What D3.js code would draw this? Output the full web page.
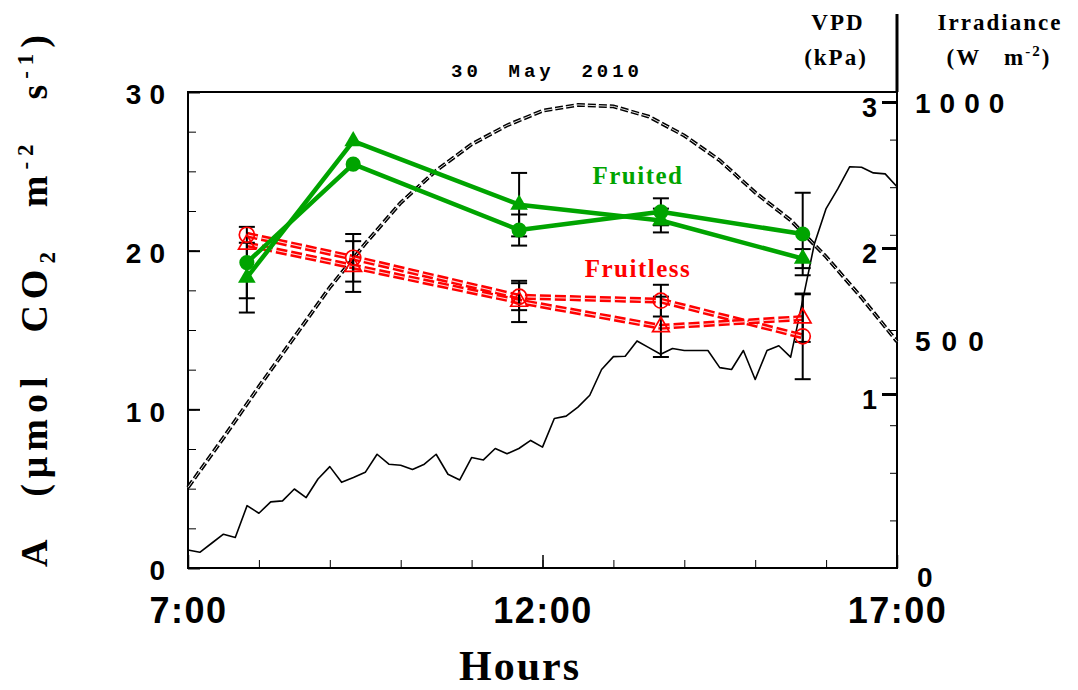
<!DOCTYPE html>
<html>
<head>
<meta charset="utf-8">
<script src="https://cdn.jsdelivr.net/npm/d3@7"></script>
<style>
  body { margin: 0; background: #fff; }
  text { fill: #000; white-space: pre; }
</style>
</head>
<body>
<div id="chart"></div>
<script>
// measurement times (hours) of the gas exchange campaign
const hours = [7.83, 9.33, 11.67, 13.67, 15.67]

// net assimilation A, two series per group, with their error bars
const fruitedCircle = [19.25, 25.45, 21.3, 22.45, 21.05]
const fruitedCircleErr = [2.25, 0, 0.98, 0.85, 2.6]
const fruitedTriangle = [18.3, 26.9, 22.9, 21.9, 19.5]
const fruitedTriangleErr = [2.2, 0, 2.0, 0.75, 0.6]
const fruitlessCircle = [21.0, 19.55, 17.1, 16.85, 14.6]
const fruitlessCircleErr = [0, 1.5, 0.85, 1.0, 2.7]
const fruitlessTriangle = [20.4, 19.0, 16.8, 15.2, 15.75]
const fruitlessTriangleErr = [0, 1.6, 1.3, 1.9, 1.5]

// VPD (kPa), every 30 min
const vpdTimes = ["7:00", "7:30", "8:00", "8:30", "9:00", "9:30", "10:00", "10:30", "11:00", "11:30",
    "12:00", "12:30", "13:00", "13:30", "14:00", "14:30", "15:00", "15:30", "16:00", "16:30", "17:00"]
const vpdValues = [0.36, 0.70, 1.05, 1.39, 1.73, 2.03, 2.31, 2.53, 2.71, 2.84,
    2.94, 2.98, 2.97, 2.90, 2.77, 2.60, 2.38, 2.19, 1.94, 1.66, 1.36]

// irradiance (W m-2), every 10 min
const irrTimes = ["7:00", "7:10", "7:20", "7:30", "7:40", "7:50", "8:00", "8:10", "8:20", "8:30", "8:40", "8:50",
    "9:00", "9:10", "9:20", "9:30", "9:40", "9:50", "10:00", "10:10", "10:20", "10:30", "10:40", "10:50",
    "11:00", "11:10", "11:20", "11:30", "11:40", "11:50", "12:00", "12:10", "12:20", "12:30", "12:40", "12:50",
    "13:00", "13:10", "13:20", "13:30", "13:40", "13:50", "14:00", "14:10", "14:20", "14:30", "14:40", "14:50",
    "15:00", "15:10", "15:20", "15:30", "15:40", "15:50", "16:00", "16:10", "16:20", "16:30", "16:40", "16:50", "17:00"]
const irrValues = [38, 33, 52, 71, 64, 131, 115, 139, 141, 166, 148, 187,
    213, 180, 190, 201, 239, 218, 216, 207, 218, 239, 197, 185,
    232, 227, 251, 240, 251, 268, 254, 314, 319, 338, 363, 417,
    444, 445, 477, 463, 449, 461, 457, 457, 457, 421, 417, 457,
    396, 457, 467, 443, 560, 680, 755, 797, 843, 842, 830, 828, 801]

// axis ticks
const xTickLabels = [7, 12, 17]
const aTickLabels = [0, 10, 20, 30]
const vpdTickLabels = [1, 2, 3]
const irrTickLabels = [0, 500, 1000]

const GREEN = "#00a400"
const RED = "#ff0000"
const SANS = "'Liberation Sans', Arial, sans-serif"
const SERIF = "'Liberation Serif', 'Times New Roman', serif"

const toHour = t => +t.split(":")[0] + t.split(":")[1] / 60

const svg = d3.select("#chart")
    .append("svg")
    .attr("width", 1078)
    .attr("height", 690)

const x = d3.scaleLinear().domain([7, 17]).range([188, 897])
const yA = d3.scaleLinear().domain([0, 30]).range([568, 92])
const yVpd = d3.scaleLinear().domain([0, 3]).range([540, 102])
const yIrr = d3.scaleLinear().domain([0, 1000]).range([568, 92])

// stretch the gaps between words so a text fills a given length
function fitWords(sel, target, gaps) {
    const len = sel.node().getComputedTextLength()
    sel.attr("word-spacing", Math.max(0, (target - len) / gaps))
}

// frame
svg.append("rect")
    .attr("x", x(7)).attr("y", yA(30))
    .attr("width", x(17) - x(7)).attr("height", yA(0) - yA(30))
    .attr("fill", "none").attr("stroke", "#000").attr("stroke-width", 2)

// header divider on the right
svg.append("line")
    .attr("x1", x(17)).attr("x2", x(17)).attr("y1", 14).attr("y2", yA(30))
    .attr("stroke", "#000").attr("stroke-width", 3)

// left axis: ticks point inward
const leftMinor = svg.append("g").attr("transform", `translate(${x(7)},0)`)
    .call(d3.axisRight(yA).tickValues(d3.range(0, 30.1, 2.5)).tickSize(8).tickFormat(""))
leftMinor.select(".domain").remove()
const leftMajor = svg.append("g").attr("transform", `translate(${x(7)},0)`)
    .call(d3.axisLeft(yA).tickValues(aTickLabels).tickSizeInner(-12).tickSizeOuter(0).tickPadding(15))
leftMajor.select(".domain").remove()
leftMajor.selectAll("line").attr("stroke-width", 2)
leftMajor.selectAll("text")
    .attr("font-family", SANS).attr("font-weight", "bold").attr("font-size", 28)
    .attr("letter-spacing", 8).attr("dy", "0.42em")

// bottom axis
const bottomMinor = svg.append("g").attr("transform", `translate(0,${yA(0)})`)
    .call(d3.axisTop(x).tickValues(d3.range(7, 17.1, 1)).tickSize(8).tickFormat(""))
bottomMinor.select(".domain").remove()
const bottomMajor = svg.append("g").attr("transform", `translate(0,${yA(0)})`)
    .call(d3.axisBottom(x).tickValues(xTickLabels).tickSizeInner(-13).tickSizeOuter(0).tickPadding(55)
        .tickFormat(d => d + ":00"))
bottomMajor.select(".domain").remove()
bottomMajor.selectAll("line").attr("stroke-width", 1.5)
bottomMajor.selectAll("text")
    .attr("font-family", SANS).attr("font-weight", "bold").attr("font-size", 36)
    .attr("letter-spacing", 1.5).attr("dy", 0)

// right axis: irradiance minor ticks, VPD major ticks, both inward
const rightIrr = svg.append("g").attr("transform", `translate(${x(17)},0)`)
    .call(d3.axisLeft(yIrr).tickValues(d3.range(100, 1000, 100)).tickSize(7).tickFormat(""))
rightIrr.select(".domain").remove()
const rightVpd = svg.append("g").attr("transform", `translate(${x(17)},0)`)
    .call(d3.axisLeft(yVpd).tickValues(vpdTickLabels).tickSize(15).tickPadding(5)
        .tickFormat(d3.format("d")))
rightVpd.select(".domain").remove()
rightVpd.selectAll("line").attr("stroke-width", 3)
rightVpd.selectAll("text")
    .attr("font-family", SANS).attr("font-weight", "bold").attr("font-size", 27)
    .attr("dy", "0.55em")

svg.append("g").selectAll("text")
    .data(irrTickLabels)
    .join("text")
    .attr("x", d => d === 0 ? x(17) + 20 : x(17) + 18)
    .attr("y", d => d === 0 ? yIrr(d) + 19 : yIrr(d) + 21)
    .attr("font-family", SANS).attr("font-weight", "bold").attr("font-size", 28)
    .attr("letter-spacing", d => d === 500 ? 11 : 9)
    .text(d => d)

// VPD: double-line dashed curve
const vpdData = vpdTimes.map((t, i) => ({ h: toHour(t), v: vpdValues[i] }))
const vpdLine = d3.line().x(d => x(d.h)).y(d => yVpd(d.v))
svg.append("path").datum(vpdData)
    .attr("fill", "none").attr("stroke", "#000").attr("stroke-width", 3.8)
    .attr("stroke-dasharray", "8,3").attr("d", vpdLine)
svg.append("path").datum(vpdData)
    .attr("fill", "none").attr("stroke", "#fff").attr("stroke-width", 0.9)
    .attr("stroke-dasharray", "8,3").attr("d", vpdLine)

// irradiance: thin solid line
const irrData = irrTimes.map((t, i) => ({ h: toHour(t), v: irrValues[i] }))
svg.append("path").datum(irrData)
    .attr("fill", "none").attr("stroke", "#000").attr("stroke-width", 1.6)
    .attr("stroke-linejoin", "round")
    .attr("d", d3.line().x(d => x(d.h)).y(d => yIrr(d.v)))

const series = [
    { values: fruitlessCircle, err: fruitlessCircleErr, color: RED, shape: "circle", open: true },
    { values: fruitlessTriangle, err: fruitlessTriangleErr, color: RED, shape: "triangle", open: true },
    { values: fruitedCircle, err: fruitedCircleErr, color: GREEN, shape: "circle", open: false },
    { values: fruitedTriangle, err: fruitedTriangleErr, color: GREEN, shape: "triangle", open: false }
]
const aLine = d3.line().x((d, i) => x(hours[i])).y(d => yA(d))

// series lines
series.forEach(s => {
    if (s.open) {
        svg.append("path").datum(s.values)
            .attr("fill", "none").attr("stroke", s.color).attr("stroke-width", 6)
            .attr("stroke-dasharray", "11,4").attr("d", aLine)
        svg.append("path").datum(s.values)
            .attr("fill", "none").attr("stroke", "#ffd6d6").attr("stroke-width", 1.1)
            .attr("stroke-dasharray", "11,4").attr("d", aLine)
    } else {
        svg.append("path").datum(s.values)
            .attr("fill", "none").attr("stroke", s.color).attr("stroke-width", 4.5)
            .attr("stroke-linejoin", "round").attr("d", aLine)
    }
})

// error bars
series.forEach(s => {
    const g = svg.append("g").attr("stroke", "#000").attr("stroke-width", 2)
    s.values.forEach((v, i) => {
        const e = s.err[i]
        if (!e) return
        const cx = x(hours[i])
        g.append("line").attr("x1", cx).attr("x2", cx).attr("y1", yA(v - e)).attr("y2", yA(v + e))
        g.append("line").attr("x1", cx - 8).attr("x2", cx + 8).attr("y1", yA(v - e)).attr("y2", yA(v - e))
        g.append("line").attr("x1", cx - 8).attr("x2", cx + 8).attr("y1", yA(v + e)).attr("y2", yA(v + e))
    })
})

// markers
series.forEach(s => {
    const sym = d3.symbol()
        .type(s.shape === "circle" ? d3.symbolCircle : d3.symbolTriangle)
        .size(s.open ? (s.shape === "circle" ? 180 : 120) : (s.shape === "circle" ? 180 : 135))
    svg.append("g").selectAll("path")
        .data(s.values)
        .join("path")
        .attr("transform", (d, i) => `translate(${x(hours[i])},${yA(d)})`)
        .attr("d", sym)
        .attr("fill", s.open ? "none" : s.color)
        .attr("stroke", s.color)
        .attr("stroke-width", s.open ? 1.7 : 0)
})

// group labels
svg.append("text").attr("x", 638).attr("y", 184)
    .attr("text-anchor", "middle").attr("font-family", SERIF).attr("font-weight", "bold")
    .attr("font-size", 25).attr("letter-spacing", 1.5).style("fill", GREEN).text("Fruited")
svg.append("text").attr("x", 638).attr("y", 277)
    .attr("text-anchor", "middle").attr("font-family", SERIF).attr("font-weight", "bold")
    .attr("font-size", 25).attr("letter-spacing", 1.5).style("fill", RED).text("Fruitless")

// title
const title = svg.append("text").attr("x", 451).attr("y", 77)
    .attr("font-family", "'Liberation Mono', 'Courier New', monospace").attr("font-weight", "bold")
    .attr("font-size", 19).attr("letter-spacing", 4)
    .text("30 May 2010")
fitWords(title, 192, 2)

// right headers
const header = (cx, y) => svg.append("text").attr("x", cx).attr("y", y)
    .attr("text-anchor", "middle").attr("font-family", SERIF).attr("font-weight", "bold")
    .attr("font-size", 23).attr("letter-spacing", 2)
header(838, 30).text("VPD")
header(836, 65).text("(kPa)")
header(1000, 30).text("Irradiance")
const wm = header(999, 65)
wm.append("tspan").text("(W   m")
wm.append("tspan").attr("font-size", 15).attr("dy", -9).text("-2")
wm.append("tspan").attr("dy", 9).text(")")

// y axis title
const yt = svg.append("text")
    .attr("transform", "translate(47,567) rotate(-90)")
    .attr("font-family", SERIF).attr("font-weight", "bold").attr("font-size", 38)
    .attr("letter-spacing", 6)
yt.append("tspan").text("A (\u03bcmol CO")
yt.append("tspan").attr("font-size", 23).attr("dy", 8).text("2")
yt.append("tspan").attr("dy", -8).text(" m")
yt.append("tspan").attr("font-size", 23).attr("dy", -14).text("-2")
yt.append("tspan").attr("dy", 14).text(" s")
yt.append("tspan").attr("font-size", 23).attr("dy", -14).text("-1")
yt.append("tspan").attr("dy", 14).text(")")
fitWords(yt, 538, 4)

// x axis title
svg.append("text").attr("x", 520).attr("y", 680)
    .attr("text-anchor", "middle").attr("font-family", SERIF).attr("font-weight", "bold")
    .attr("font-size", 42).attr("letter-spacing", 2).text("Hours")
</script>
</body>
</html>
